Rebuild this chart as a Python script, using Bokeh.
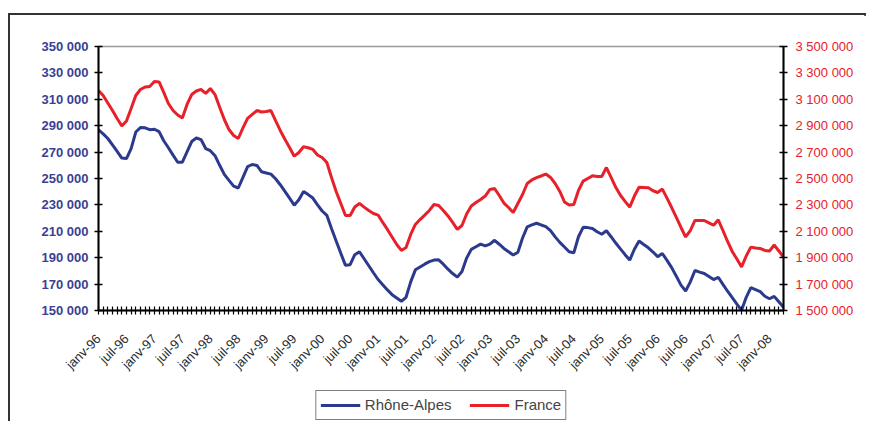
import math
from bokeh.plotting import figure
from bokeh.models import Range1d, LinearAxis, FixedTicker, Legend, LegendItem
from bokeh.embed import file_html
from bokeh.resources import INLINE

# Monthly values, janv-96 .. avr-08 (thousands)
rhone_alpes_k = [
    286.9, 283.8, 280.3, 275.5, 270.5, 265.5, 265.1, 272.7, 285.2, 288.6, 288.4, 287.0,
    287.3, 285.5, 278.6, 273.3, 267.7, 262.3, 262.4, 270.2, 278.0, 280.7, 279.5, 272.7,
    271.1, 267.3, 260.0, 253.1, 248.6, 244.2, 242.8, 250.9, 259.0, 260.6, 259.9, 255.1,
    254.2, 253.3, 249.8, 245.3, 240.2, 235.1, 229.8, 233.9, 240.2, 237.8, 235.2, 230.0,
    225.4, 222.1, 212.1, 202.7, 193.3, 184.2, 184.7, 192.3, 194.5, 189.2, 183.9, 178.6,
    173.5, 169.5, 165.6, 162.0, 159.5, 157.0, 160.0, 171.7, 180.8, 183.0, 185.1, 187.0,
    188.2, 188.4, 185.1, 181.3, 178.0, 175.3, 179.5, 189.7, 196.3, 198.3, 200.3, 199.0,
    200.3, 203.2, 200.2, 197.0, 194.5, 192.0, 194.2, 204.9, 213.4, 214.8, 216.1, 214.8,
    213.6, 210.5, 205.8, 201.6, 198.1, 194.5, 193.7, 205.9, 213.0, 212.8, 212.1, 209.7,
    207.8, 210.4, 205.9, 201.1, 196.7, 192.3, 188.2, 196.4, 202.6, 200.0, 197.5, 194.3,
    190.8, 193.2, 188.0, 182.5, 176.0, 169.2, 164.8, 171.7, 180.3, 179.1, 178.0, 175.7,
    173.4, 175.2, 169.8, 164.6, 159.8, 154.9, 150.1, 160.0, 167.3, 165.8, 164.3, 160.8,
    158.9, 160.7, 156.6, 152.4,
]
france_k = [
    3167, 3129, 3072, 3015, 2955, 2898, 2936, 3030, 3129, 3174, 3193, 3197,
    3235, 3232, 3152, 3068, 3015, 2981, 2958, 3061, 3136, 3163, 3175, 3144,
    3182, 3136, 3040, 2947, 2871, 2826, 2803, 2883, 2955, 2985, 3015, 3004,
    3008, 3015, 2939, 2864, 2797, 2735, 2669, 2697, 2740, 2733, 2720, 2678,
    2659, 2621, 2508, 2402, 2311, 2220, 2220, 2284, 2311, 2283, 2258, 2235,
    2223, 2167, 2114, 2057, 2000, 1955, 1977, 2076, 2152, 2189, 2223, 2258,
    2303, 2295, 2258, 2216, 2167, 2114, 2144, 2231, 2292, 2318, 2341, 2367,
    2417, 2424, 2371, 2314, 2280, 2242, 2311, 2379, 2462, 2489, 2506, 2519,
    2534, 2508, 2462, 2402, 2322, 2299, 2303, 2409, 2480, 2500, 2520, 2515,
    2515, 2583, 2508, 2433, 2373, 2327, 2283, 2367, 2434, 2432, 2430, 2407,
    2394, 2420, 2351, 2280, 2205, 2129, 2057, 2106, 2182, 2182, 2182, 2164,
    2146, 2187, 2106, 2023, 1947, 1890, 1830, 1913, 1980, 1973, 1970, 1955,
    1951, 1996, 1951, 1904,
]

mois = ["janv", "févr", "mars", "avr", "mai", "juin",
        "juil", "août", "sept", "oct", "nov", "déc"]
left_ticks = list(range(150000, 350001, 20000))
right_ticks = list(range(1500000, 3500001, 200000))

n = min(len(rhone_alpes_k), len(france_k))
x = list(range(n))
ra = [v * 1000 for v in rhone_alpes_k[:n]]
fr = [v * 1000 for v in france_k[:n]]
month_labels = [f"{mois[i % 12]}-{(96 + i // 12) % 100:02d}" for i in range(n)]


def fmt(v):
    return f"{v:,}".replace(",", " ")


p = figure(width=858, height=408, frame_width=685, frame_height=264,
           output_backend="svg", toolbar_location=None,
           x_range=Range1d(0, n - 1), y_range=Range1d(150000, 350000),
           min_border_left=88, min_border_right=85, min_border_top=31,
           min_border_bottom=113, sizing_mode="fixed")
p.styles = {"margin-left": "8px", "margin-top": "13px",
            "border-left": "2px solid #333", "border-top": "2px solid #333",
            "border-right": "2px solid #333"}
p.extra_y_ranges = {"fr": Range1d(1500000, 3500000)}
p.grid.visible = False
p.outline_line_color = "#999999"
p.outline_line_width = 1.5
p.background_fill_color = "white"

FONT = "Liberation Sans"

# left axis
ya = p.yaxis[0]
ya.ticker = FixedTicker(ticks=left_ticks)
ya.major_label_overrides = {t: fmt(t) for t in left_ticks}
ya.major_label_text_color = "#3a3f94"
ya.major_label_text_font = FONT
ya.major_label_text_font_style = "bold"
ya.major_label_text_font_size = "13px"
ya.axis_line_color = "black"
ya.axis_line_width = 2
ya.major_tick_in = 4
ya.major_tick_out = 4
ya.major_tick_line_width = 1.5
ya.minor_tick_line_color = None
ya.major_label_standoff = 6

# right axis
ra_axis = LinearAxis(y_range_name="fr", ticker=FixedTicker(ticks=right_ticks))
ra_axis.major_label_overrides = {t: fmt(t) for t in right_ticks}
ra_axis.major_label_text_color = "#e8202a"
ra_axis.major_label_text_font = FONT
ra_axis.major_label_text_font_size = "13px"
ra_axis.axis_line_color = "black"
ra_axis.axis_line_width = 2
ra_axis.major_tick_in = 4
ra_axis.major_tick_out = 4
ra_axis.major_tick_line_width = 1.5
ra_axis.minor_tick_line_color = None
ra_axis.major_label_standoff = 8
p.add_layout(ra_axis, "right")

# x axis
xa = p.xaxis[0]
xa.ticker = FixedTicker(ticks=x)
xa.major_label_overrides = {i: (month_labels[i] if i % 6 == 0 else "") for i in x}
xa.major_label_orientation = math.pi / 4
xa.major_label_text_font = FONT
xa.major_label_text_font_size = "13px"
xa.major_label_text_color = "#2a2a2a"
xa.axis_line_color = "black"
xa.axis_line_width = 2
xa.major_tick_in = 4
xa.major_tick_out = 4
xa.major_tick_line_width = 1.2
xa.minor_tick_line_color = None
xa.major_label_standoff = 22

r1 = p.line(x, ra, color="#2b3a8c", line_width=3)
r2 = p.line(x, fr, color="#e8202a", line_width=3, y_range_name="fr")

legend = Legend(items=[LegendItem(label="Rhône-Alpes", renderers=[r1]),
                       LegendItem(label="France", renderers=[r2])],
                orientation="horizontal", location="center")
legend.border_line_color = "black"
legend.border_line_width = 1.5
legend.label_text_font = FONT
legend.label_text_font_size = "15px"
legend.glyph_width = 40
legend.padding = 4
legend.spacing = 18
legend.margin = 4
p.add_layout(legend, "below")

open("out.html", "w").write(file_html(p, INLINE))
